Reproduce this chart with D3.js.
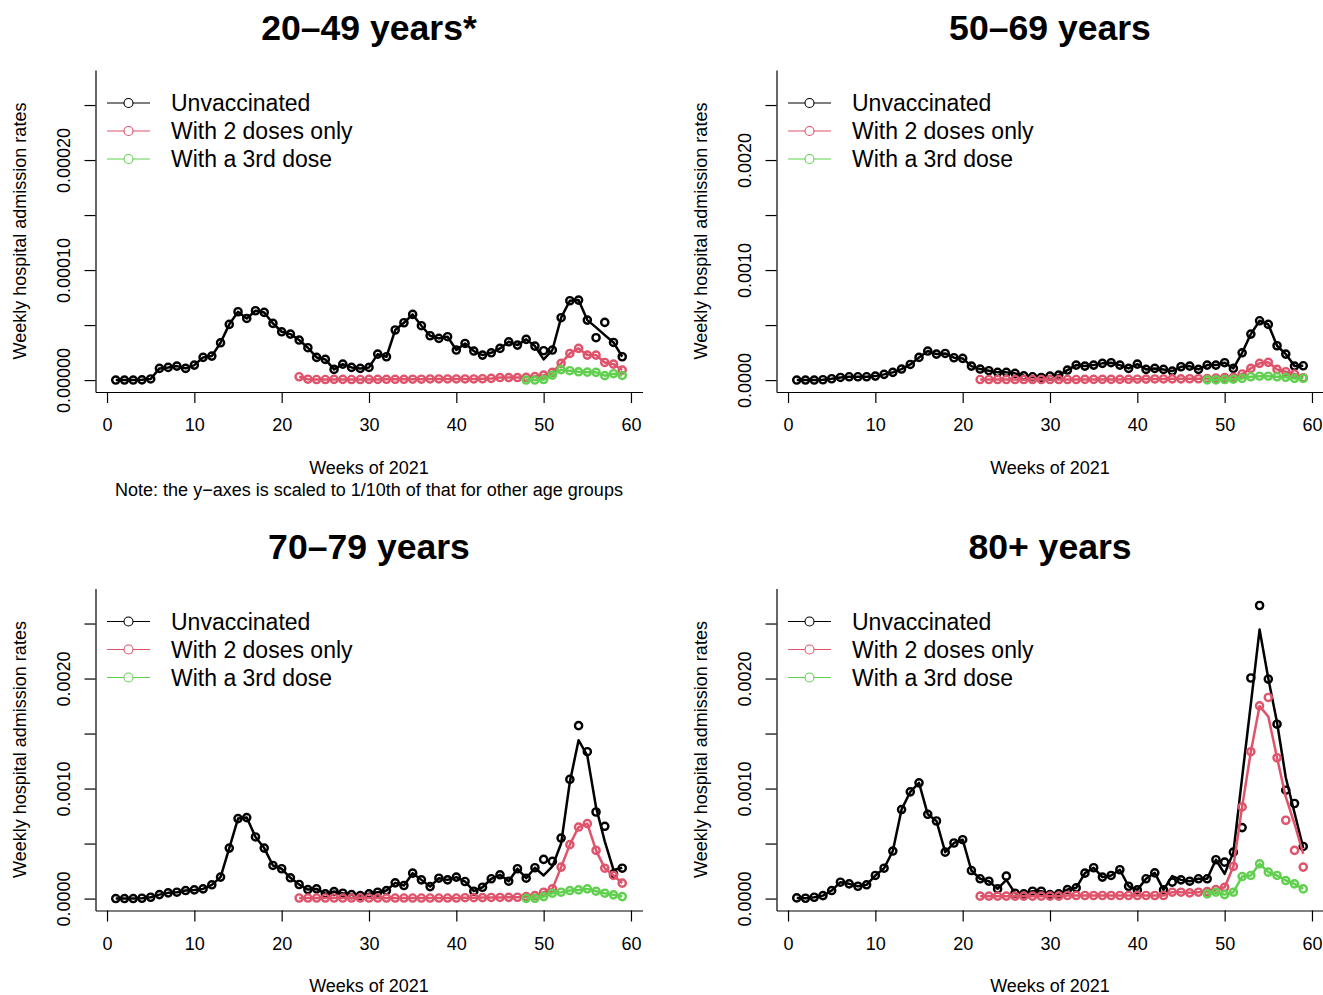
<!DOCTYPE html>
<html>
<head>
<meta charset="utf-8">
<script src="https://cdn.jsdelivr.net/npm/d3@7"></script>
<style>
  html, body { margin: 0; padding: 0; background: #fff; }
  svg { display: block; font-family: "Liberation Sans", Arial, Helvetica, sans-serif; }
</style>
</head>
<body>
<svg id="chart" width="1323" height="995"></svg>
<script>
// ---------------- DATA ----------------
const weeksAll = d3.range(1, 60);      // weeks 1..59
const weeks2 = d3.range(22, 60);       // weeks 22..59
const weeks3 = d3.range(48, 60);       // weeks 48..59
const xTicks = [0, 10, 20, 30, 40, 50, 60];
const seriesNames = ["Unvaccinated", "With 2 doses only", "With a 3rd dose"];
const seriesColors = ["#000000", "#DF536B", "#61D04F"];
const panelTitles = ["20\u201349 years*", "50\u201369 years", "70\u201379 years", "80+ years"];
const yMaxSmall = 0.000271;
const yMaxLarge = 0.00271;
const yTicksSmall = [0, 0.00005, 0.0001, 0.00015, 0.0002, 0.00025];
const yTicksLarge = [0, 0.0005, 0.001, 0.0015, 0.002, 0.0025];
const yLabeledSmall = [0, 0.0001, 0.0002];
const yLabeledLarge = [0, 0.001, 0.002];

// 20-49 years
const a20_unvac = [0,0,0,0.0000002,0.000001,0.0000106,0.0000115,0.0000127,0.0000106,0.0000136,
  0.0000206,0.0000218,0.0000339,0.0000506,0.0000621,0.000056,0.000063,0.0000615,0.0000515,0.0000439,
  0.0000418,0.0000364,0.0000294,0.0000206,0.0000188,0.0000097,0.0000145,0.0000115,0.0000106,0.0000115,
  0.0000236,0.0000212,0.0000455,0.0000521,0.0000597,0.0000494,0.0000403,0.0000379,0.0000394,0.0000273,
  0.0000333,0.0000264,0.0000227,0.0000248,0.0000288,0.0000348,0.0000318,0.000037,0.0000309,0.0000267,
  0.0000273,0.0000567,0.0000721,0.0000727,0.0000545,0.0000385,0.0000524,0.0000342,0.0000212];
const a20_unvacFit = [0,0,0,0.0000002,0.000001,0.0000106,0.0000115,0.0000127,0.0000106,0.0000136,
  0.0000206,0.0000218,0.0000339,0.0000506,0.0000621,0.000056,0.000063,0.0000615,0.0000515,0.0000439,
  0.0000418,0.0000364,0.0000294,0.0000206,0.0000188,0.0000097,0.0000145,0.0000115,0.0000106,0.0000115,
  0.0000236,0.0000212,0.0000455,0.0000521,0.0000597,0.0000494,0.0000403,0.0000379,0.0000394,0.0000273,
  0.0000333,0.0000264,0.0000227,0.0000248,0.0000288,0.0000348,0.0000318,0.000037,0.0000309,0.0000188,
  0.0000273,0.0000567,0.0000721,0.0000727,0.0000545,0.0000479,0.0000409,0.0000342,0.0000212];
const a20_two = [0.000003,0.0000008,0.0000005,0.0000005,0.0000006,0.0000006,0.0000005,0.0000005,0.0000006,0.0000006,
  0.0000007,0.0000007,0.0000007,0.0000008,0.0000008,0.000001,0.000001,0.000001,0.000001,0.000001,
  0.000001,0.0000012,0.0000015,0.0000023,0.0000023,0.0000023,0.0000025,0.0000032,0.0000045,0.000007,
  0.0000152,0.0000242,0.0000288,0.0000227,0.0000227,0.000016,0.0000145,0.0000091];
const a20_three = [0,0,0.0000005,0.0000045,0.0000095,0.0000085,0.0000075,0.0000072,0.000007,0.000004,0.0000058,0.0000042];

// 50-69 years
const a50_unvac = [0,0,0,0.000003,0.000012,0.000024,0.00003,0.00003,0.00003,0.000036,
  0.000052,0.00007,0.0001,0.000142,0.000206,0.000264,0.000236,0.000242,0.000203,0.000197,
  0.000127,0.0001,0.000085,0.00007,0.00007,0.000061,0.000039,0.00003,0.000024,0.000036,
  0.000045,0.000091,0.000136,0.000127,0.000136,0.000152,0.000158,0.000136,0.000106,0.000145,
  0.000097,0.000106,0.000097,0.000082,0.000121,0.000127,0.000097,0.000136,0.000136,0.000158,
  0.000106,0.000248,0.000418,0.000539,0.000506,0.000312,0.000236,0.000127,0.00013];
const a50_two = [0.000005,0.000005,0.000005,0.000005,0.000005,0.000005,0.000005,0.000005,0.000005,0.000005,
  0.000005,0.000005,0.000006,0.000006,0.000006,0.000006,0.000006,0.000007,0.000008,0.000009,
  0.00001,0.00001,0.000011,0.000011,0.000012,0.000012,0.000014,0.000018,0.000022,0.000025,
  0.000055,0.000106,0.000152,0.000161,0.000097,0.000076,0.000055,0.000021];
const a50_three = [0.000002,0.000002,0.000005,0.000008,0.000015,0.00003,0.000035,0.000035,0.00003,0.000025,0.000015,0.000015];

// 70-79 years
const a70_unvac = [0,0,0,0.000003,0.000012,0.000036,0.000052,0.000058,0.000073,0.000079,
  0.000088,0.000125,0.000195,0.000459,0.000727,0.000736,0.00056,0.000459,0.000301,0.000271,
  0.000189,0.000128,0.000082,0.000088,0.000043,0.000064,0.000049,0.000036,0.000027,0.000043,
  0.000058,0.000073,0.000143,0.000119,0.000231,0.00017,0.000109,0.000185,0.00017,0.000195,
  0.000155,0.000067,0.000103,0.00018,0.000216,0.000158,0.000271,0.000185,0.00028,0.000356,
  0.000338,0.00055,0.001083,0.001572,0.001335,0.000787,0.000657,0.000225,0.000276];
const a70_unvacFit = [0,0,0,0.000003,0.000012,0.000036,0.000052,0.000058,0.000073,0.000079,
  0.000088,0.000125,0.000195,0.000459,0.000727,0.000736,0.00056,0.000459,0.000301,0.000271,
  0.000189,0.000128,0.000082,0.000088,0.000043,0.000064,0.000049,0.000036,0.000027,0.000043,
  0.000058,0.000073,0.000143,0.000119,0.000231,0.00017,0.000109,0.000185,0.00017,0.000195,
  0.000155,0.000067,0.000103,0.00018,0.000216,0.000158,0.000271,0.000185,0.00028,0.00021,
  0.000292,0.0005,0.00106,0.00144,0.0013,0.00083,0.00052,0.00026,0.00028];
const a70_two = [0.000005,0.000005,0.000005,0.000005,0.000005,0.000005,0.000005,0.000005,0.000005,0.000005,
  0.000005,0.000005,0.000005,0.000005,0.000005,0.000005,0.000005,0.000005,0.000005,0.000008,
  0.000008,0.000009,0.00001,0.00001,0.000011,0.000012,0.000018,0.000027,0.000058,0.000088,
  0.000286,0.00049,0.00065,0.000681,0.000438,0.000276,0.00021,0.00014];
const a70_three = [0.000002,0.000003,0.000018,0.000049,0.000058,0.000073,0.000079,0.000088,0.000067,0.000049,0.000034,0.000018];

// 80+ years
const a80_unvac = [0.000006,0.000003,0.000012,0.000027,0.000073,0.000149,0.000134,0.000112,0.000125,0.00021,
  0.000276,0.000432,0.000809,0.00097,0.001052,0.000766,0.000705,0.000422,0.000505,0.000535,
  0.000255,0.00018,0.000158,0.000088,0.000204,0.000049,0.000043,0.000067,0.000067,0.000036,
  0.000043,0.000082,0.000097,0.000231,0.00028,0.000195,0.00021,0.000262,0.000112,0.000079,
  0.00018,0.000234,0.000079,0.000149,0.00017,0.000158,0.00018,0.00018,0.000353,0.000331,
  0.000422,0.000645,0.002005,0.002664,0.001995,0.001585,0.000985,0.000864,0.000474];
const a80_unvacFit = [0.000006,0.000003,0.000012,0.000027,0.000073,0.000149,0.000134,0.000112,0.000125,0.00021,
  0.000276,0.000432,0.000809,0.00097,0.001052,0.000766,0.000705,0.000422,0.000505,0.000535,
  0.000255,0.00018,0.000158,0.000088,0.00017,0.000049,0.000043,0.000067,0.000067,0.000036,
  0.000043,0.000082,0.000097,0.000231,0.00028,0.000195,0.00021,0.000262,0.000112,0.000079,
  0.00018,0.000234,0.000079,0.000205,0.00017,0.000158,0.00018,0.00018,0.000353,0.000225,
  0.00042,0.0011,0.00177,0.002445,0.002,0.0016,0.0011,0.00078,0.00046];
const a80_two = [0.000022,0.000022,0.000022,0.000022,0.000022,0.000022,0.000022,0.000022,0.000022,0.000022,
  0.000028,0.000028,0.000028,0.000028,0.000028,0.000028,0.000028,0.000028,0.000028,0.000028,
  0.000028,0.000028,0.000058,0.000058,0.000052,0.000058,0.000064,0.000082,0.000103,0.000292,
  0.000833,0.001335,0.001752,0.001828,0.00128,0.000712,0.000438,0.000286];
const a80_twoFit = [0.000022,0.000022,0.000022,0.000022,0.000022,0.000022,0.000022,0.000022,0.000022,0.000022,
  0.000028,0.000028,0.000028,0.000028,0.000028,0.000028,0.000028,0.000028,0.000028,0.000028,
  0.000028,0.000028,0.000058,0.000058,0.000052,0.000058,0.000064,0.000082,0.000103,0.000292,
  0.000833,0.001335,0.00175,0.001654,0.00128,0.000924,0.00068,0.000407];
const a80_three = [0.000043,0.000058,0.000036,0.000058,0.0002,0.00021,0.000316,0.00024,0.00021,0.000164,0.000134,0.000088];

// ---------------- PANELS ----------------
const panels = [
  { title: panelTitles[0], dx: 0,   dy: 0,     yMax: yMaxSmall, ticks: yTicksSmall, labeled: yLabeledSmall, fmt: d3.format(".5f"), note: true,
    series: [[weeksAll, a20_unvac, a20_unvacFit], [weeks2, a20_two, a20_two], [weeks3, a20_three, a20_three]] },
  { title: panelTitles[1], dx: 681, dy: 0,     yMax: yMaxLarge, ticks: yTicksLarge, labeled: yLabeledLarge, fmt: d3.format(".4f"), note: false,
    series: [[weeksAll, a50_unvac, a50_unvac], [weeks2, a50_two, a50_two], [weeks3, a50_three, a50_three]] },
  { title: panelTitles[2], dx: 0,   dy: 518.5, yMax: yMaxLarge, ticks: yTicksLarge, labeled: yLabeledLarge, fmt: d3.format(".4f"), note: false,
    series: [[weeksAll, a70_unvac, a70_unvacFit], [weeks2, a70_two, a70_two], [weeks3, a70_three, a70_three]] },
  { title: panelTitles[3], dx: 681, dy: 518.5, yMax: yMaxLarge, ticks: yTicksLarge, labeled: yLabeledLarge, fmt: d3.format(".4f"), note: false,
    series: [[weeksAll, a80_unvac, a80_unvacFit], [weeks2, a80_two, a80_twoFit], [weeks3, a80_three, a80_three]] }
];

const svg = d3.select("#chart");
const L = 95.5, R = 642.5, T = 70, B = 392;
const axisFont = 18;

panels.forEach(p => {
  const g = svg.append("g").attr("transform", `translate(${p.dx},${p.dy})`);
  const x = d3.scaleLinear().domain([1 - 0.04 * 58, 59 + 0.04 * 58]).range([L, R]);
  const y = d3.scaleLinear().domain([-0.04 * p.yMax, 1.04 * p.yMax]).range([B, T]);

  // Title
  g.append("text").attr("x", (L + R) / 2).attr("y", 40)
    .attr("text-anchor", "middle").attr("font-weight", "bold").attr("font-size", 35.6)
    .text(p.title);

  // X axis
  const xa = g.append("g").attr("transform", `translate(0,${B})`)
    .call(d3.axisBottom(x).tickValues(xTicks).tickFormat(d3.format("d")).tickSize(11).tickSizeOuter(0).tickPadding(15.5));
  xa.selectAll("path,line").attr("stroke", "#000").attr("stroke-width", 1.2);
  xa.selectAll("text").attr("font-size", axisFont).attr("fill", "#000")
    .attr("font-family", "'Liberation Sans', Arial, Helvetica, sans-serif");

  // Y axis
  const ya = g.append("g").attr("transform", `translate(${L},0)`)
    .call(d3.axisLeft(y).tickValues(p.ticks)
      .tickFormat(d => p.labeled.some(v => Math.abs(v - d) < 1e-12) ? p.fmt(d) : "")
      .tickSize(11).tickSizeOuter(0));
  ya.selectAll("path,line").attr("stroke", "#000").attr("stroke-width", 1.2);
  ya.selectAll("text").attr("font-size", axisFont).attr("fill", "#000")
    .attr("font-family", "'Liberation Sans', Arial, Helvetica, sans-serif")
    .attr("x", null).attr("dy", null).attr("text-anchor", "middle")
    .attr("transform", `translate(${69.5 - L},0) rotate(-90)`);

  // Axis titles
  g.append("text").attr("transform", `translate(25.5,${(T + B) / 2}) rotate(-90)`)
    .attr("text-anchor", "middle").attr("font-size", axisFont).text("Weekly hospital admission rates");
  g.append("text").attr("x", (L + R) / 2).attr("y", 473.5)
    .attr("text-anchor", "middle").attr("font-size", axisFont).text("Weeks of 2021");
  if (p.note) {
    g.append("text").attr("x", (L + R) / 2).attr("y", 495.5)
      .attr("text-anchor", "middle").attr("font-size", axisFont)
      .text("Note: the y\u2212axes is scaled to 1/10th of that for other age groups");
  }

  // Series
  p.series.forEach((s, i) => {
    const [wk, pts, fit] = s;
    const line = d3.line().x((d, j) => x(wk[j])).y(d => y(d));
    g.append("path").datum(fit).attr("d", line)
      .attr("fill", "none").attr("stroke", seriesColors[i]).attr("stroke-width", 2.5)
      .attr("stroke-linejoin", "round");
    g.append("g").selectAll("circle").data(pts).join("circle")
      .attr("cx", (d, j) => x(wk[j])).attr("cy", d => y(d)).attr("r", 3.6)
      .attr("fill", "none").attr("stroke", seriesColors[i]).attr("stroke-width", 2.4);
  });

  // Legend
  const lg = g.append("g");
  seriesNames.forEach((name, i) => {
    const ry = 103 + i * 28;
    lg.append("line").attr("x1", 107).attr("x2", 150).attr("y1", ry).attr("y2", ry)
      .attr("stroke", seriesColors[i]).attr("stroke-width", 1);
    lg.append("circle").attr("cx", 128.5).attr("cy", ry).attr("r", 4.5)
      .attr("fill", "#fff").attr("stroke", seriesColors[i]).attr("stroke-width", 1.1);
    lg.append("text").attr("x", 171).attr("y", ry + 8.2).attr("font-size", 23).text(name);
  });
});
</script>
</body>
</html>
